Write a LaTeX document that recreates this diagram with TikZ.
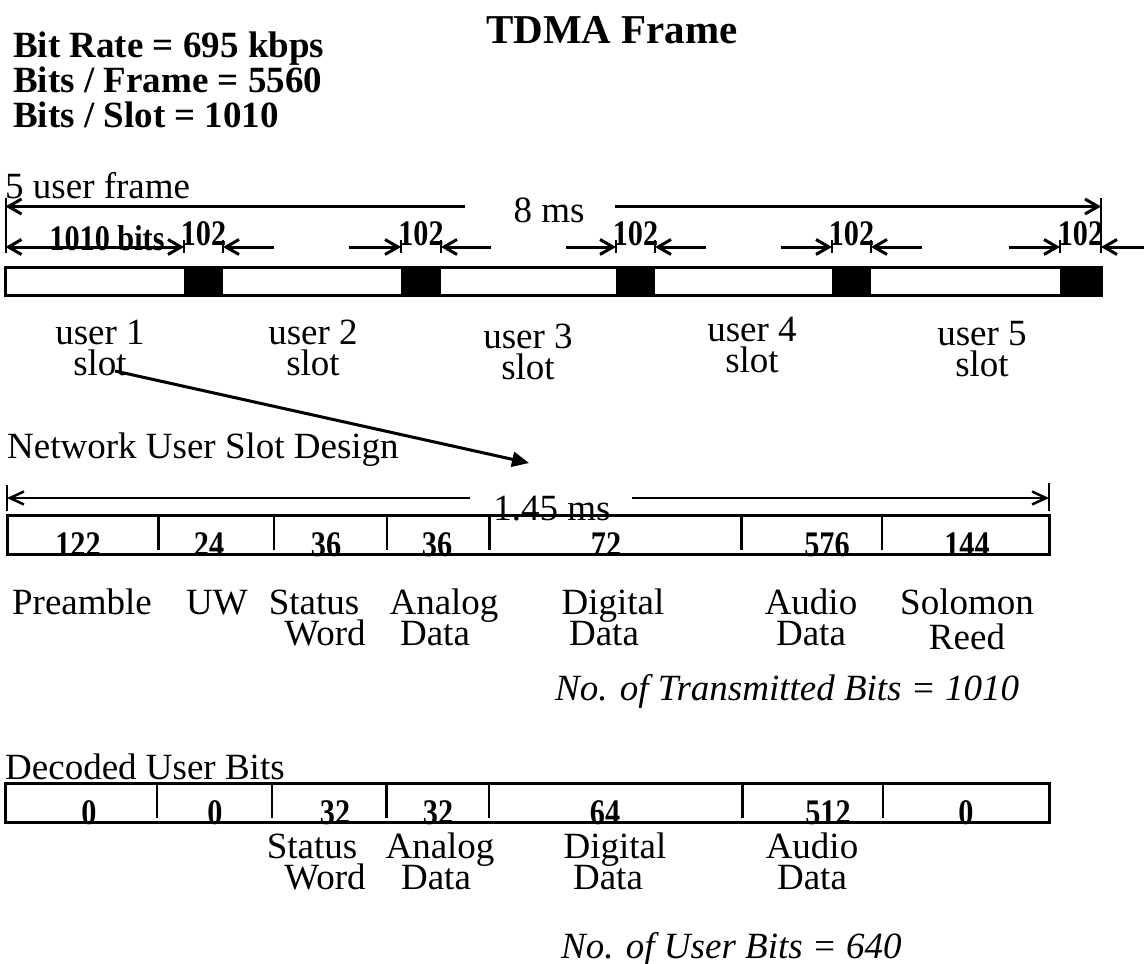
\documentclass[tikz,border=0pt]{standalone}
\usepackage{fontspec}
\setmainfont{Liberation Serif}
\newfontfamily\condfont{Liberation Serif}[FakeStretch=0.84]
\usetikzlibrary{arrows.meta,calc}
\setlength{\lineskiplimit}{-50pt}
\tikzset{
  reg/.style={font=\fontsize{37}{32}\selectfont, inner sep=0pt, anchor=base},
  regl/.style={reg, anchor=base west},
  twoline/.style={font=\fontsize{37}{31}\selectfont, inner sep=0pt, align=center, anchor=south},
  hdr/.style={font=\fontsize{37}{35}\selectfont\bfseries, inner sep=0pt, anchor=base west},
  ttl/.style={font=\fontsize{41}{41}\selectfont\bfseries, inner sep=0pt, anchor=base},
  bnum/.style={font=\condfont\fontsize{36}{36}\selectfont\bfseries, inner sep=0pt, anchor=base},
  ital/.style={font=\fontsize{37}{37}\selectfont\itshape, inner sep=0pt, anchor=base west},
  baroutline/.style={draw=black, line width=3pt},
  gapbox/.style={fill=black},
  divider/.style={line width=2.5pt},
  tickline/.style={line width=2pt},
  dimarrow/.style={line width=3pt, -{Straight Barb[length=13pt,width=15pt]}},
  dimboth/.style={line width=3pt, {Straight Barb[length=13pt,width=15pt]}-{Straight Barb[length=13pt,width=15pt]}},
  thinarrow/.style={line width=2.5pt, -{Straight Barb[length=14pt,width=13pt]}},
  pointer/.style={line width=3pt, -{Triangle[length=17pt,width=15pt]}},
}
\begin{document}
\begin{tikzpicture}[x=1pt,y=-1pt]
\useasboundingbox (0,0) rectangle (1144,964);

% ---------- header ----------
\node[ttl] (title) at (612,43) {TDMA Frame};
\node[hdr] (rate) at (13,57) {Bit Rate = 695 kbps};
\node[hdr] (bpf) at (13,92) {Bits / Frame = 5560};
\node[hdr] (bps) at (13,127) {Bits / Slot = 1010};

% ---------- TDMA frame ----------
\node[regl] (ufr) at (5,198) {5 user frame};
\node[reg] (ems) at (549,222) {8 ms};
\coordinate (fL) at (5.5,206.5);
\coordinate (fR) at (1101,206.5);
\draw[tickline] (5.5,198) -- (5.5,253);
\draw[tickline] (1101,198) -- (1101,253);
\draw[dimarrow] (465,206.5) -- (fL);
\draw[dimarrow] (615,206.5) -- (fR);

% frame bar with guard gaps
\foreach \l/\r/\i in {184/223/1, 401/441/2, 616/655/3, 832/871/4, 1060/1101/5}{
  \fill[gapbox] (\l,267) rectangle (\r,295);
  \coordinate (gL\i) at (\l,247);
  \coordinate (gR\i) at (\r,247);
  \draw[tickline] (\l,240) -- (\l,253);
  \draw[tickline] (\r,240) -- (\r,253);
  \node[bnum] (n102\i) at ({(\l+\r)/2},245) {102};
}
\draw[baroutline] (5.5,267) rectangle (1101,295);

% dimension arrows around the gaps
\coordinate (s1) at (5.5,247);
\draw[dimboth] (s1) -- (gL1);
\node[bnum] (bits1010) at (107,250) {1010 bits};
\foreach \a/\i in {349/2, 566/3, 781/4, 1009/5}{
  \coordinate (aL\i) at (\a,247);
  \draw[dimarrow] (aL\i) -- (gL\i);
}
\foreach \b/\i in {274/1, 491/2, 706/3, 922/4, 1144/5}{
  \coordinate (aR\i) at (\b,247);
  \draw[dimarrow] (aR\i) -- (gR\i);
}

% user slot labels
\node[twoline] (u1) at (100,376) {user 1\\slot};
\node[twoline] (u2) at (313,376) {user 2\\slot};
\node[twoline] (u3) at (528,380) {user 3\\slot};
\node[twoline] (u4) at (752,373) {user 4\\slot};
\node[twoline] (u5) at (982,377) {user 5\\slot};

\coordinate (pstart) at (115,371);
\coordinate (pend) at (529,463);
\draw[pointer] (pstart) -- (pend);

% ---------- network user slot design ----------
\node[regl] (nusd) at (7,458) {Network User Slot Design};
\node[reg] (t145) at (552,520) {1.45 ms};
\coordinate (sL) at (7,498);
\coordinate (sR) at (1049,498);
\draw[tickline] (7,485) -- (7,511);
\draw[tickline] (1049,483) -- (1049,511);
\draw[thinarrow] (470,498) -- (sL);
\draw[thinarrow] (632,498) -- (sR);

\foreach \v/\x in {122/78, 24/209, 36/326, 36/437, 72/606, 576/827, 144/967}{
  \node[bnum] at (\x,556) {\v};
}
\foreach \x in {158.5, 274, 387, 489.6, 741.5, 882}{
  \draw[divider] (\x,516) -- (\x,550);
}
\draw[baroutline] (7,515) rectangle (1049,554);

\node[reg] (pre) at (82,614) {Preamble};
\node[reg] (uw) at (217,614) {UW};
\node[twoline] (sw) at (314,646) {Status\\\kern22pt Word};
\node[twoline] (ad) at (444,646) {Analog\\Data\kern18pt};
\node[twoline] (dd) at (613,646) {Digital\\Data\kern18pt};
\node[twoline] (au) at (811,646) {Audio\\Data};
\node[twoline] (sr) at (967,650) {Solomon\\[4pt]Reed};

\node[ital] (ntx) at (555,700) {No. of Transmitted Bits = 1010};

% ---------- decoded user bits ----------
\node[regl] (dub) at (5,779) {Decoded User Bits};
\foreach \v/\x in {0/89, 0/215, 32/335, 32/438, 64/605, 512/828, 0/966}{
  \node[bnum] at (\x,824) {\v};
}
\foreach \x in {157, 272, 386.6, 489, 742.5, 883}{
  \draw[divider] (\x,784) -- (\x,818);
}
\draw[baroutline] (5.5,783) rectangle (1049,822);

\node[twoline] (dsw) at (312,890) {Status\\\kern26pt Word};
\node[twoline] (dad) at (440,890) {Analog\\Data\kern8pt};
\node[twoline] (ddd) at (615,890) {Digital\\Data\kern14pt};
\node[twoline] (dau) at (812,890) {Audio\\Data};

\node[ital] (nub) at (561,958) {No. of User Bits = 640};
\end{tikzpicture}
\end{document}
